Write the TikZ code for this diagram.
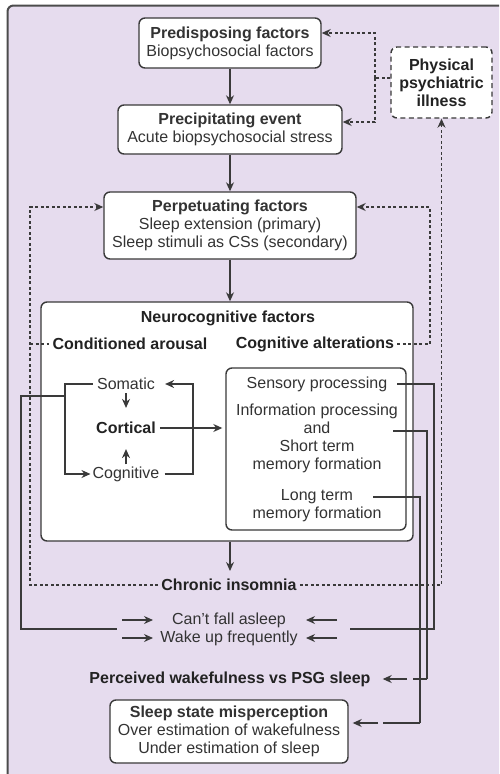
\documentclass[tikz,border=0pt]{standalone}
\usepackage{fontspec}
\setmainfont{Liberation Sans}
\usetikzlibrary{arrows.meta}
\definecolor{lav}{HTML}{E6DCEE}
\definecolor{ink}{HTML}{333333}
\definecolor{inkb}{HTML}{222222}
\definecolor{wirec}{HTML}{3A3A3A}
\definecolor{framec}{HTML}{4C4C4C}
\begin{document}
\begin{tikzpicture}[x=1pt,y=-1pt,
  font=\fontsize{16}{18}\selectfont,
  box/.style={draw=wirec, line width=1.4pt, rounded corners=6pt, fill=white, align=center, inner sep=0pt, text=ink},
  lbl/.style={inner sep=0pt, text=ink, align=center},
  bl/.style={inner sep=0pt, text=inkb, align=center, font=\fontsize{16}{18}\selectfont\bfseries},
  wire/.style={draw=wirec, line width=1.2pt},
  arr/.style={wire, -{Stealth[length=9pt,width=8pt]}},
  dot/.style={draw=wirec, line width=1.3pt, dash pattern=on 3pt off 2.5pt},
  dotarr/.style={dot, -{Stealth[length=9pt,width=8pt]}},
]
\useasboundingbox (0,0) rectangle (499,774);
% background frame
\fill[lav] (8,774) -- (8,11) arc[start angle=180, end angle=90, radius=6pt] -- (499,5) -- (499,774) -- cycle;
\draw[framec, line width=2pt] (7.5,774) -- (7.5,11.5) arc[start angle=180, end angle=90, radius=6pt] -- (499,5.5);

% boxes
\node[box, minimum width=182pt, minimum height=50pt] (pre) at (230,43) {\textbf{Predisposing factors}\\Biopsychosocial factors};
\node[box, minimum width=224pt, minimum height=49pt] (prec) at (230,129.5) {\textbf{Precipitating event}\\Acute biopsychosocial stress};
\node[box, dash pattern=on 5pt off 3.5pt, minimum width=101pt, minimum height=71pt, text=inkb] (phys) at (441.5,82.5) {\textbf{Physical}\\\textbf{psychiatric}\\\textbf{illness}};
\node[box, minimum width=252pt, minimum height=67pt] (perp) at (230,225.5) {\textbf{Perpetuating factors}\\Sleep extension (primary)\\Sleep stimuli as CSs (secondary)};
\node[box, minimum width=372pt, minimum height=239pt] (neuro) at (227,421.5) {};
\node[box, minimum width=180pt, minimum height=162pt] (inner) at (316,449) {};
\node[box, minimum width=238pt, minimum height=63pt] (sleep) at (229,731.5) {\textbf{Sleep state misperception}\\Over estimation of wakefulness\\Under estimation of sleep};

% labels
\node[bl] (neurot) at (228,318) {Neurocognitive factors};
\node[bl] (condar) at (130,344) {Conditioned arousal};
\node[bl] (cogalt) at (315,344) {Cognitive alterations};
\node[lbl] (som) at (126,384) {Somatic};
\node[bl] (cort) at (126,428) {Cortical};
\node[lbl] (cogn) at (126,474) {Cognitive};
\node[lbl] (sens) at (317,384) {Sensory processing};
\node[lbl] (info) at (317,438.5) {Information processing\\and\\Short term\\memory formation};
\node[lbl] (ltm) at (317,505.5) {Long term\\memory formation};
\node[bl] (chron) at (229,585) {Chronic insomnia};
\node[lbl] (cant) at (229,620) {Can't fall asleep};
\node[lbl] (wake) at (229,638) {Wake up frequently};
\node[bl] (perc) at (230,679) {Perceived wakefulness vs PSG sleep};

% main column
\draw[arr] (pre) -- (prec);
\draw[arr] (prec) -- (perp);
\draw[arr] (perp.south) -- (perp.south |- neuro.north);
\coordinate (chA) at (230,571);
\draw[arr] (neuro.south -| chA) -- (chA);

% physical illness dotted links
\coordinate (pA) at (375,78);
\coordinate (pB) at (375,33);
\coordinate (pC) at (375,122);
\draw[dot] (phys.west |- pA) -- (pA);
\draw[dotarr] (pA) -- (pB) -- (pre.east |- pB);
\draw[dotarr] (pA) -- (pC) -- (prec.east |- pC);
\coordinate (cR) at (441.5,585);
\draw[dotarr] ([xshift=3pt]chron.east) -- (cR) -- (phys.south);
\coordinate (cL) at (30,585);
\coordinate (pL) at (30,207);
\draw[dotarr] ([xshift=-3pt]chron.west) -- (cL) -- (pL) -- (perp.west |- pL);
\draw[dot] (cL |- condar) -- ([xshift=-3pt]condar.west);
\coordinate (pR) at (430,207);
\coordinate (aR) at (430,344);
\draw[dotarr] ([xshift=3pt]cogalt.east) -- (aR) -- (pR) -- (perp.east |- pR);

% conditioned arousal loop
\draw[arr, shorten <=3pt, shorten >=14pt] (som.south) -- (cort.north);
\draw[arr, shorten <=2pt, shorten >=15pt] (cogn.north) -- (cort.south);
\coordinate (lxA) at (65,0);
\coordinate (rxA) at (193,0);
\draw[arr] ([xshift=-4pt]som.west) -- (som.west -| lxA) -- (cogn.west -| lxA) -- ([xshift=-2pt]cogn.west);
\draw[arr] ([xshift=5pt]cogn.east) -- (cogn.east -| rxA) -- (som.east -| rxA) -- ([xshift=10pt]som.east);
\draw[arr, shorten >=3pt] ([xshift=4pt]cort.east) -- (inner.west |- cort.east);

% left feedback line
\coordinate (j1) at (65,396);
\coordinate (j2) at (21,396);
\coordinate (j3) at (21,629);
\coordinate (j4) at (117,629);
\draw[wire] (j1) -- (j2) -- (j3) -- (j4);

% symptom arrows
\coordinate (a1) at (122,620); \coordinate (a2) at (153,620);
\coordinate (a3) at (122,638); \coordinate (a4) at (153,638);
\coordinate (b1) at (337,620); \coordinate (b2) at (306,620);
\coordinate (b3) at (337,638); \coordinate (b4) at (306,638);
\draw[arr] (a1) -- (a2);
\draw[arr] (a3) -- (a4);
\draw[arr] (b1) -- (b2);
\draw[arr] (b3) -- (b4);

% right lines
\coordinate (sx) at (434,629);
\coordinate (se) at (350,629);
\draw[wire] ([xshift=10pt]sens.east) -- (sens.east -| sx) -- (sx) -- (se);
\coordinate (ix0) at (393,431);
\coordinate (ix) at (427,679);
\draw[wire] (ix0) -- (ix0 -| ix) -- (ix);
\draw[arr, dash pattern=on 14pt off 6pt on 60pt off 0pt] (ix) -- ([xshift=12pt]perc.east);
\coordinate (lx0) at (373,497);
\coordinate (lx) at (420,723);
\draw[wire] (lx0) -- (lx0 -| lx) -- (lx);
\draw[arr, dash pattern=on 37pt off 5pt on 60pt off 0pt] (lx) -- ([xshift=4pt]sleep.east |- lx);
\end{tikzpicture}
\end{document}
